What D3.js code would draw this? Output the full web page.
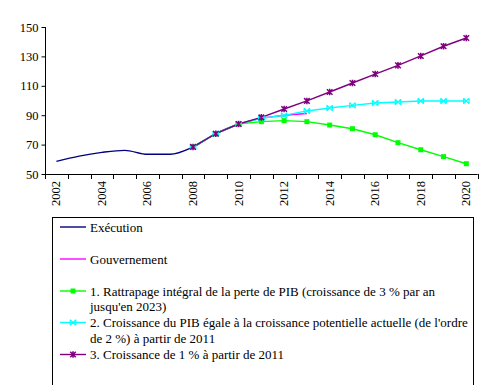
<!DOCTYPE html>
<html><head><meta charset="utf-8">
<script src="https://cdn.jsdelivr.net/npm/d3@7"></script>
<style>body{margin:0;background:#fff}svg{display:block}</style>
</head><body><div id="c"></div>
<script>
const years = d3.range(2002, 2021);
const execYears = [2002,2003,2004,2005,2006,2007,2008,2009,2010];
const execution = [58.6,62.2,64.7,66.1,63.4,63.4,68.4,77.4,84];
const gouvYears = [2010,2011,2012,2013];
const gouvernement = [84,88,90,91.2];
const scenYears = [2008,2009,2010,2011,2012,2013,2014,2015,2016,2017,2018,2019,2020];
const scen1 = [68.4,77.4,84,85.6,86.3,85.6,83.3,80.8,76.7,71.3,66.5,61.8,57];
const scen2 = [68.4,77.4,84,87.9,89.9,92.9,94.9,96.7,98.3,99.0,99.7,99.7,99.7];
const scen3 = [68.4,77.4,84,88.5,94.2,99.7,105.8,111.9,118,123.9,130.3,136.9,142.5];
const yTicks = [50,70,90,110,130,150];
const xLabels = [2002,2004,2006,2008,2010,2012,2014,2016,2018,2020];
const legendLines = [
  ["Exécution"],
  ["Gouvernement"],
  ["1. Rattrapage intégral de la perte de PIB (croissance de 3 % par an","jusqu'en 2023)"],
  ["2. Croissance du PIB égale à la croissance potentielle actuelle (de l'ordre","de 2 %) à partir de 2011"],
  ["3. Croissance de 1 % à partir de 2011"]
];

const FONT="'Liberation Serif', 'DejaVu Serif', serif";
const W=493,H=385;
const svg=d3.select("#c").append("svg").attr("width",W).attr("height",H);
const x=d3.scaleBand().domain(years).range([45,477.7]).padding(0);
const y=d3.scaleLinear().domain([50,150]).range([174,27]);
const cx=d=>x(d)+x.bandwidth()/2;

// y axis
const ya=svg.append("g").attr("transform","translate(45.5,0)")
  .call(d3.axisLeft(y).tickValues(yTicks).tickSize(4).tickPadding(3).tickFormat(d3.format("d")));
ya.attr("font-family",null);
ya.select(".domain").attr("stroke","#000").attr("d","M0,27V174");
ya.selectAll("line").attr("stroke","#000");
ya.selectAll("text").attr("fill","#000").style("font-family",FONT).style("font-size","12.5px");

// x axis
const xg=svg.append("g");
xg.append("line").attr("x1",45).attr("x2",477.7).attr("y1",174.5).attr("y2",174.5).attr("stroke","#000");
years.concat([2021]).forEach((yr,i)=>{
  const px = i<years.length ? x(yr) : x(2020)+x.bandwidth();
  xg.append("line").attr("x1",Math.round(px)+0.5).attr("x2",Math.round(px)+0.5).attr("y1",174).attr("y2",179).attr("stroke","#000");
});
xLabels.forEach(l=>{
  xg.append("text").attr("transform",`translate(${cx(l)+4},181) rotate(-90)`)
    .attr("text-anchor","end").attr("fill","#000").style("font-family",FONT).style("font-size","12.5px").text(l);
});

// lines
function series(xs, vals, color, curve){
  const data=xs.map((d,i)=>[cx(d),y(vals[i])]);
  svg.append("path").attr("d",d3.line().curve(curve||d3.curveLinear)(data))
    .attr("fill","none").attr("stroke",color).attr("stroke-width",1.4);
  return data;
}
function marker(g,type,px,py,color){
  if(type==="square"){
    g.append("rect").attr("x",px-2.5).attr("y",py-2.5).attr("width",5).attr("height",5).attr("fill",color);
  } else if(type==="x"){
    const s=2.8;
    g.append("path").attr("d",`M${px-s},${py-s}L${px+s},${py+s}M${px-s},${py+s}L${px+s},${py-s}M${px-s},${py-s}V${py+s}M${px+s},${py-s}V${py+s}`)
      .attr("stroke",color).attr("stroke-width",1.1).attr("fill","none");
  } else if(type==="star"){
    const s=2.8;
    g.append("path").attr("d",`M${px-s},${py-s}L${px+s},${py+s}M${px-s},${py+s}L${px+s},${py-s}M${px},${py-s-0.5}V${py+s+0.5}`)
      .attr("stroke",color).attr("stroke-width",1.5).attr("fill","none");
  }
}
series(execYears,execution,"#000080",d3.curveMonotoneX);
series(gouvYears,gouvernement,"#FF00FF");
const d1=series(scenYears,scen1,"#00FF00");
const d2=series(scenYears,scen2,"#00FFFF");
const d3p=series(scenYears,scen3,"#800080");
const mg=svg.append("g");
d1.forEach(p=>marker(mg,"square",p[0],p[1],"#00FF00"));
d2.forEach(p=>marker(mg,"x",p[0],p[1],"#00FFFF"));
d3p.forEach(p=>marker(mg,"star",p[0],p[1],"#800080"));

// legend
svg.append("rect").attr("x",52.5).attr("y",217.5).attr("width",421).attr("height",180).attr("fill","none").attr("stroke","#000");
const legColors=["#000080","#FF00FF","#00FF00","#00FFFF","#800080"];
const legMarkers=[null,null,"square","x","star"];
const legLineY=[227,259,291,322.5,354.5];
const lg=svg.append("g");
legendLines.forEach((lines,i)=>{
  const ly=legLineY[i];
  lg.append("line").attr("x1",60).attr("x2",86).attr("y1",ly).attr("y2",ly).attr("stroke",legColors[i]).attr("stroke-width",1.4);
  if(legMarkers[i]) marker(lg,legMarkers[i],73,ly,legColors[i]);
  lines.forEach((t,j)=>{
    lg.append("text").attr("x",90).attr("y",ly+4.5+j*15.5).attr("fill","#000")
      .style("font-family",FONT).style("font-size","13px").text(t);
  });
});
</script></body></html>
